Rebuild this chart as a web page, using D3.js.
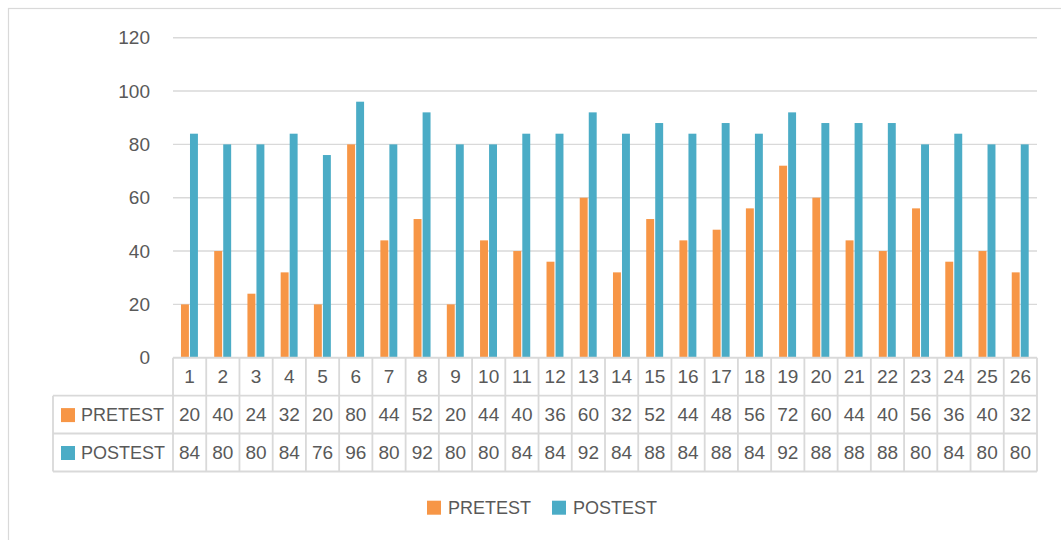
<!DOCTYPE html>
<html><head><meta charset="utf-8">
<script src="https://cdn.jsdelivr.net/npm/d3@7"></script>
<style>body{margin:0;background:#fff}svg{display:block}text{font-family:"Liberation Sans",Arial,sans-serif;fill:#595959}</style>
</head><body><svg id="c" width="1061" height="540"></svg>
<script>
const categories = ["1","2","3","4","5","6","7","8","9","10","11","12","13","14","15","16","17","18","19","20","21","22","23","24","25","26"];
const seriesNames = ["PRETEST","POSTEST"];
const pretest = [20,40,24,32,20,80,44,52,20,44,40,36,60,32,52,44,48,56,72,60,44,40,56,36,40,32];
const postest = [84,80,80,84,76,96,80,92,80,80,84,84,92,84,88,84,88,84,92,88,88,88,80,84,80,80];
const colors = ["#F79646","#4BACC6"];
const yTicks = [0,20,40,60,80,100,120];

const svg = d3.select("#c");
const L = 173, R = 1037, T = 37.7, B = 357.7;
const labelX = 53;
const rowH = [357.7, 395.7, 433.5, 471.5];

svg.append("rect").attr("x",8.5).attr("y",8.5).attr("width",1070).attr("height",560)
  .attr("fill","none").attr("stroke","#d9d9d9").attr("stroke-width",1.2);

const x = d3.scaleBand().domain(categories).range([L,R]).padding(0);
const bw = x.bandwidth();
const x1 = d3.scaleBand().domain(seriesNames).range([bw*0.24, bw*0.75]).paddingInner(0.12);
const y = d3.scaleLinear().domain([0,120]).range([B,T]);

svg.append("g").selectAll("line").data(yTicks).join("line")
  .attr("x1",L).attr("x2",R).attr("y1",d=>y(d)).attr("y2",d=>y(d))
  .attr("stroke","#d9d9d9").attr("stroke-width",1.4);
svg.append("g").selectAll("text").data(yTicks).join("text")
  .attr("x",150).attr("y",d=>y(d)).attr("dy","0.35em").attr("text-anchor","end")
  .attr("font-size",19).text(d=>d);

const series = [pretest, postest];
series.forEach((vals,si)=>{
  svg.append("g").selectAll("rect").data(vals).join("rect")
    .attr("x",(d,i)=>x(categories[i])+x1(seriesNames[si]))
    .attr("width",x1.bandwidth())
    .attr("y",d=>y(d)).attr("height",d=>B-y(d))
    .attr("fill",colors[si]);
});

const tg = svg.append("g");
const lineC = "#d9d9d9", lw = 1.8;
[1,2,3].forEach(k=>{
  tg.append("line").attr("x1",labelX).attr("x2",R).attr("y1",rowH[k]).attr("y2",rowH[k]).attr("stroke",lineC).attr("stroke-width",lw);
});
tg.append("line").attr("x1",L).attr("x2",R).attr("y1",rowH[0]).attr("y2",rowH[0]).attr("stroke",lineC).attr("stroke-width",lw);
const vx = categories.map(c=>x(c)).concat([R]);
tg.selectAll("line.v").data(vx).join("line").attr("class","v")
  .attr("x1",d=>d).attr("x2",d=>d).attr("y1",rowH[0]).attr("y2",rowH[3]).attr("stroke",lineC).attr("stroke-width",lw);
tg.append("line").attr("x1",labelX).attr("x2",labelX).attr("y1",rowH[1]).attr("y2",rowH[3]).attr("stroke",lineC).attr("stroke-width",lw);

tg.selectAll("text.h").data(categories).join("text").attr("class","h")
  .attr("x",d=>x(d)+bw/2).attr("y",(rowH[0]+rowH[1])/2).attr("dy","0.35em")
  .attr("text-anchor","middle").attr("font-size",19).text(d=>d);
series.forEach((vals,si)=>{
  const cy = (rowH[si+1]+rowH[si+2])/2;
  tg.append("g").selectAll("text").data(vals).join("text")
    .attr("x",(d,i)=>x(categories[i])+bw/2).attr("y",cy).attr("dy","0.35em")
    .attr("text-anchor","middle").attr("font-size",19).text(d=>d);
  tg.append("rect").attr("x",61).attr("y",cy-6.5).attr("width",14).attr("height",14).attr("fill",colors[si]);
  tg.append("text").attr("x",81).attr("y",cy).attr("dy","0.35em").attr("font-size",18).text(seriesNames[si]);
});

const lg = svg.append("g");
const legX = [427, 552];
seriesNames.forEach((s,i)=>{
  lg.append("rect").attr("x",legX[i]).attr("y",500.7).attr("width",14).attr("height",14).attr("fill",colors[i]);
  lg.append("text").attr("x",legX[i]+21).attr("y",508).attr("dy","0.35em").attr("font-size",18).text(s);
});
</script></body></html>
